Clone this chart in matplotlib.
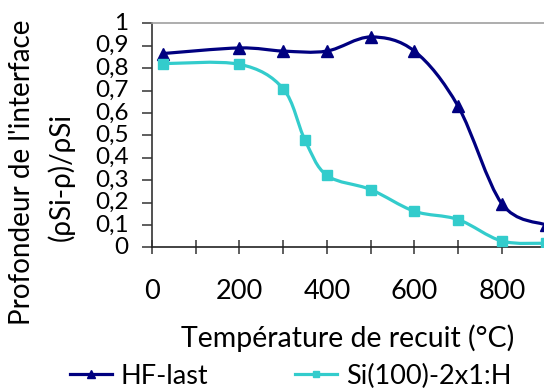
import matplotlib
matplotlib.use("Agg")
import matplotlib.pyplot as plt
from matplotlib.path import Path
from matplotlib.patches import PathPatch
from matplotlib.lines import Line2D
from matplotlib.ticker import FuncFormatter, MultipleLocator

plt.rcParams['font.family'] = ['Lato', 'DejaVu Sans']

# Data
hf_x = [25, 200, 300, 400, 500, 600, 700, 800, 900]
hf_y = [0.865, 0.89, 0.876, 0.876, 0.939, 0.876, 0.63, 0.195, 0.10]
si_x = [25, 200, 300, 350, 400, 500, 600, 700, 800, 900]
si_y = [0.82, 0.817, 0.708, 0.478, 0.321, 0.258, 0.161, 0.124, 0.028, 0.018]
series_names = ["HF-last", "Si(100)-2x1:H"]
xlabel = "Température de recuit (°C)"
ylabel_lines = ["Profondeur de l'interface", "(ρSi-ρ)/ρSi"]

c_hf = "#000080"
c_si = "#33CCCC"
FS = 19.5

fig = plt.figure(figsize=(5.44, 3.90), dpi=100)
ax = fig.add_axes([152/544, 1-247.3/390, 393.5/544, 224/390])


def smooth_path(xs, ys):
    pts = list(zip(xs, ys))
    n = len(pts)
    verts = [pts[0]]
    codes = [Path.MOVETO]
    for i in range(n - 1):
        p0 = pts[i - 1] if i > 0 else pts[i]
        p1 = pts[i]
        p2 = pts[i + 1]
        p3 = pts[i + 2] if i + 2 < n else pts[i + 1]
        c1 = (p1[0] + (p2[0] - p0[0]) / 6, p1[1] + (p2[1] - p0[1]) / 6)
        c2 = (p2[0] - (p3[0] - p1[0]) / 6, p2[1] - (p3[1] - p1[1]) / 6)
        verts += [c1, c2, p2]
        codes += [Path.CURVE4] * 3
    return Path(verts, codes)


for xs, ys, col in [(hf_x, hf_y, c_hf), (si_x, si_y, c_si)]:
    patch = PathPatch(smooth_path(xs, ys), fill=False, edgecolor=col, lw=2.3,
                      capstyle='round', joinstyle='round', zorder=2)
    ax.add_patch(patch)

ax.plot(hf_x, hf_y, ls='none', marker='^', ms=8.5, color=c_hf, zorder=3)
ax.plot(si_x, si_y, ls='none', marker='s', ms=7, color=c_si, zorder=3)

ax.set_xlim(0, 900)
ax.set_ylim(0, 1)
ax.xaxis.set_major_locator(MultipleLocator(200))
ax.xaxis.set_minor_locator(MultipleLocator(100))
ax.yaxis.set_major_locator(MultipleLocator(0.1))
ax.yaxis.set_major_formatter(FuncFormatter(lambda v, p: ("%g" % round(v, 1)).replace('.', ',')))

ax.spines['right'].set_visible(False)
ax.spines['top'].set_color('#a0a0a0')
ax.spines['top'].set_linewidth(1.2)
ax.spines['left'].set_color('#333333')
ax.spines['left'].set_linewidth(1.2)
ax.spines['bottom'].set_color('#222222')
ax.spines['bottom'].set_linewidth(1.2)

ax.tick_params(axis='x', which='both', direction='inout', length=10, width=1.1,
               color='#333333', labelsize=FS, pad=18)
ax.tick_params(axis='y', which='both', direction='out', length=7, width=1.1,
               color='#333333', labelsize=17.5, pad=10)
for lab in ax.get_yticklabels():
    lab.set_verticalalignment('center')

fig.text(347.5/544, 1-338/390, xlabel, ha='center', va='center', fontsize=20.5)
fig.text(22/544, 1-172/390, ylabel_lines[0], rotation=90, ha='center', va='center',
         fontsize=20)
fig.text(61/544, 1-177/390, ylabel_lines[1], rotation=90, ha='center', va='center',
         fontsize=20)

handles = [Line2D([], [], color=c_hf, lw=2.3, marker='^', ms=6),
           Line2D([], [], color=c_si, lw=2.3, marker='s', ms=5)]
fig.legend(handles, series_names, loc='center left', bbox_to_anchor=(70/544, 1-376/390),
           ncol=2, frameon=False, fontsize=FS, handlelength=1.55, handletextpad=0.33,
           columnspacing=3.2, borderaxespad=0, borderpad=0)

fig.savefig("out.png", dpi=100)
